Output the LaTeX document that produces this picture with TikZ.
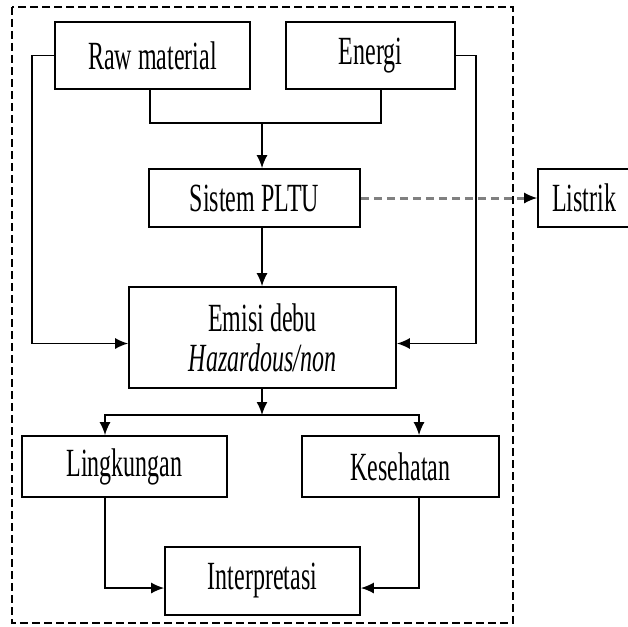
\documentclass[tikz,border=0pt]{standalone}
\usepackage{fontspec}
\setmainfont{Liberation Serif}[FakeStretch=0.6]
\usepackage{tikz}
\usetikzlibrary{arrows.meta,positioning,calc}

\tikzset{
  blok/.style={draw, line width=1.7pt, rectangle, inner sep=0pt,
    font=\fontsize{40}{40}\selectfont, align=center},
  panah/.style={line width=1.6pt, -{Latex[length=13pt,width=11pt]}},
  garis/.style={line width=1.6pt}
}

\begin{document}
\begin{tikzpicture}[x=1pt, y=-1pt]
    \useasboundingbox (0,0) rectangle (628,626);

    % frame
    \draw[line width=1.3pt, dash pattern=on 8pt off 4pt] (12,7) rectangle (513,623);

    % top inputs
    \node[blok, minimum width=195pt, minimum height=67pt] (raw) at (152.5,55.5) {Raw material};
    \node[blok, minimum width=169pt, minimum height=67pt] (energi) at (370.5,55.5) {Energi};

    % process
    \node[blok, minimum width=211pt, minimum height=58pt] (sistem) at (254.5,198) {Sistem PLTU};
    \node[blok, minimum width=100pt, minimum height=58pt] (listrik) at (588,198) {\hspace*{-8pt}Listrik};

    % emission
    \node[blok, minimum width=267pt, minimum height=101pt] (emisi) at (262.5,337.5)
        {Emisi debu\\\textit{Hazardous/non}};

    % impacts
    \node[blok, minimum width=205pt, minimum height=61pt] (lingk) at (124.5,466.5) {Lingkungan};
    \node[blok, minimum width=197pt, minimum height=61pt] (sehat) at (400.5,466.5) {Kesehatan};
    \node[blok, minimum width=195pt, minimum height=68pt] (interp) at (262.5,581) {Interpretasi};

    % junctions
    \coordinate (gabung) at (262,123);
    \coordinate (cabang) at (262,415);

    % Maps
    \draw[garis] (raw.south -| 150,0) |- (gabung) -| (energi.south -| 381,0);
    \draw[panah] (gabung) -- (gabung |- sistem.north);
    \draw[panah] (sistem.south -| gabung) -- (emisi.north -| gabung);

    \draw[panah] (raw.west) -- ++(-22,0) |- ([yshift=-6pt]emisi.west);
    \draw[panah] (energi.east) -- ++(20,0) |- ([yshift=-6pt]emisi.east);

    \draw[gray, line width=3pt, dash pattern=on 8pt off 5pt] (sistem.east) -- ([xshift=-12pt]listrik.west);
    \draw[panah] ([xshift=-13pt]listrik.west) -- (listrik.west);

    \draw[panah] (emisi.south -| cabang) -- (cabang);
    \draw[panah] (cabang) -| (lingk.north -| 105,0);
    \draw[panah] (cabang) -| (sehat.north -| 419,0);

    \draw[panah] (lingk.south -| 105,0) |- ([yshift=-7pt]interp.west);
    \draw[panah] (sehat.south -| 419,0) |- ([yshift=-7pt]interp.east);

\end{tikzpicture}
\end{document}
